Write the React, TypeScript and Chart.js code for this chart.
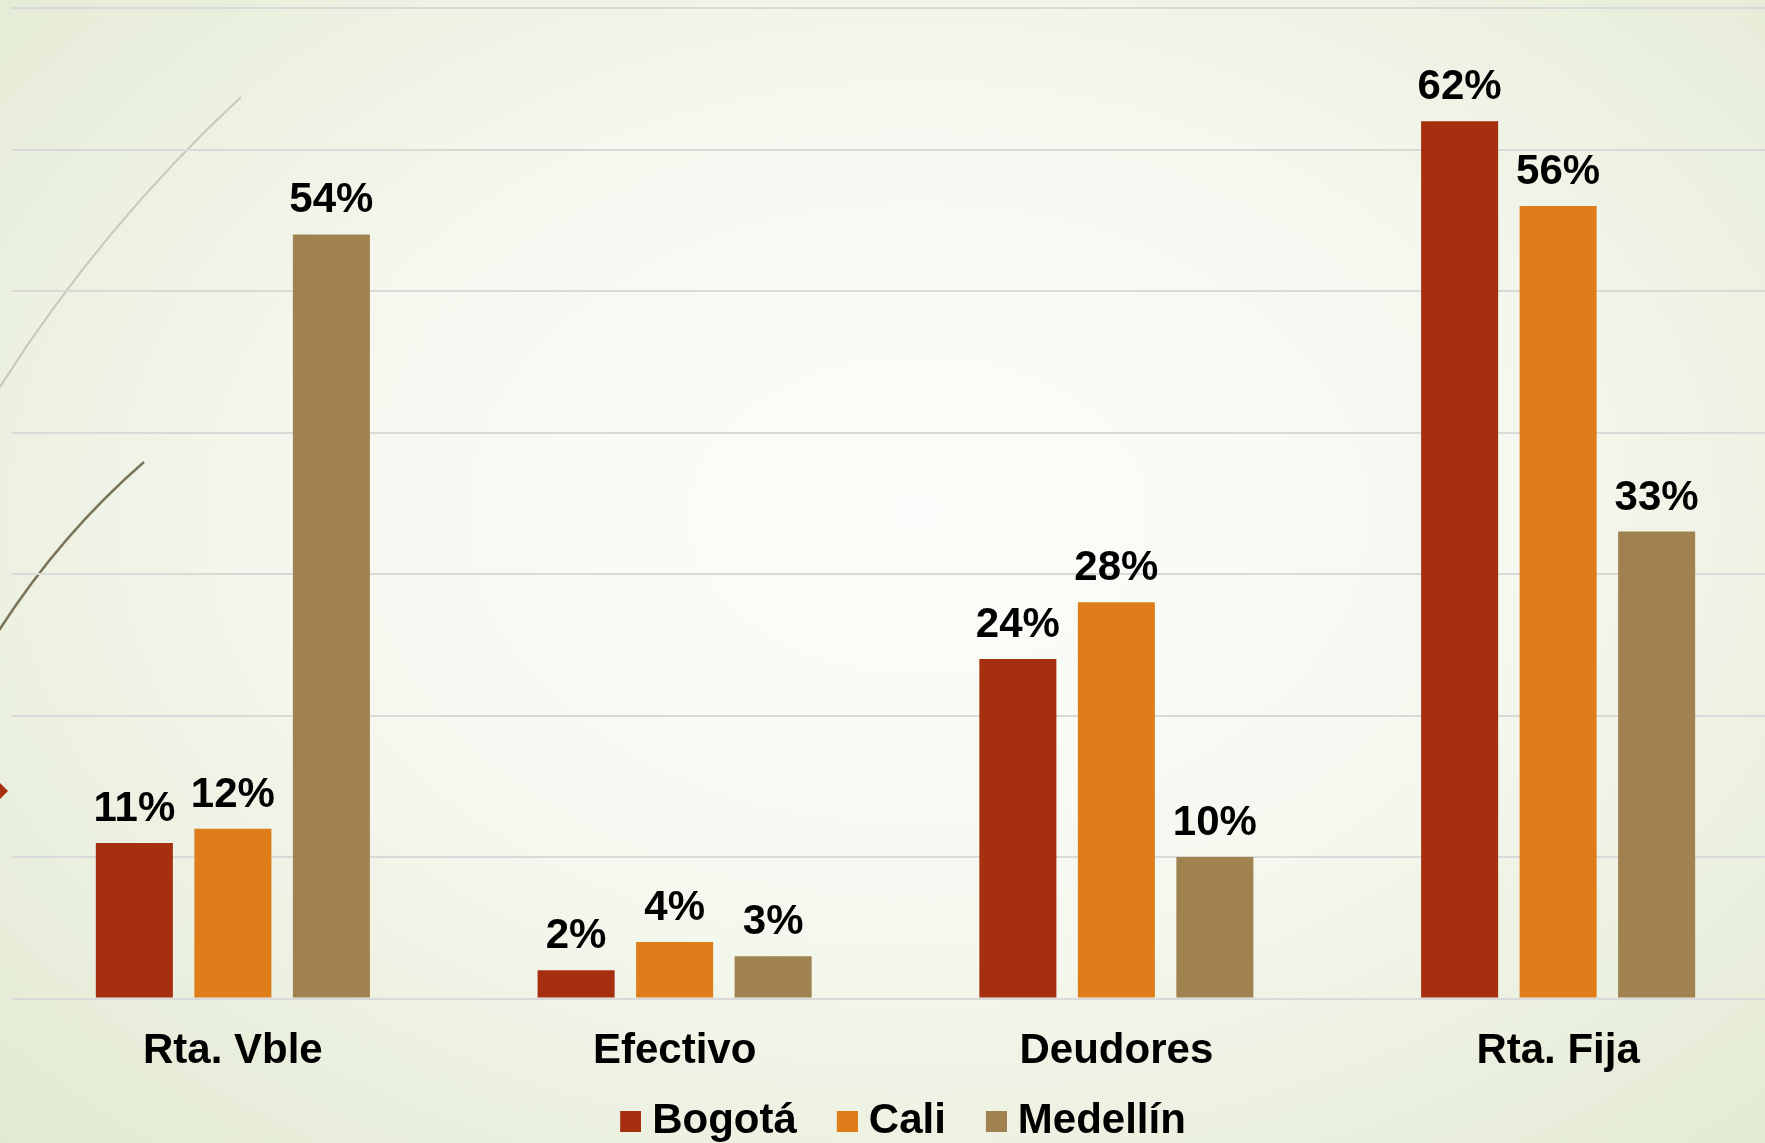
import React, { useEffect, useRef } from "react";
import { Chart, registerables } from "chart.js";

Chart.register(...registerables);

const categories = ["Rta. Vble", "Efectivo", "Deudores", "Rta. Fija"];
const seriesNames = ["Bogotá", "Cali", "Medellín"];
const bogota = [11, 2, 24, 62];
const cali = [12, 4, 28, 56];
const medellin = [54, 3, 10, 33];
const seriesColors = ["#a62f10", "#df7d1a", "#a08251"];
const yMin = 0;
const yMax = 70;
const yStep = 10;

const FONT_FAMILY = "'Liberation Sans', Arial, Helvetica, sans-serif";

const valueLabels = {
  id: "valueLabels",
  afterDatasetsDraw(chart: any) {
    const ctx = chart.ctx;
    ctx.save();
    ctx.font = `bold 42px ${FONT_FAMILY}`;
    ctx.fillStyle = "#000000";
    ctx.textAlign = "center";
    ctx.textBaseline = "alphabetic";
    chart.data.datasets.forEach((ds: any, i: number) => {
      const meta = chart.getDatasetMeta(i);
      meta.data.forEach((bar: any, j: number) => {
        ctx.fillText(`${ds.data[j]}%`, bar.x, bar.y - 22);
      });
    });
    ctx.restore();
  },
};

const decoration = {
  id: "decoration",
  beforeDraw(chart: any) {
    const ctx = chart.ctx;
    ctx.save();
    ctx.beginPath();
    ctx.moveTo(241, 97);
    ctx.quadraticCurveTo(100, 228, -2, 390);
    ctx.strokeStyle = "rgba(196,200,180,0.95)";
    ctx.lineWidth = 2;
    ctx.stroke();
    ctx.beginPath();
    ctx.moveTo(144, 462);
    ctx.quadraticCurveTo(60, 535, -2, 632);
    ctx.strokeStyle = "#7b745a";
    ctx.lineWidth = 2.5;
    ctx.stroke();
    ctx.beginPath();
    ctx.moveTo(-4, 779);
    ctx.lineTo(8, 791);
    ctx.lineTo(-4, 803);
    ctx.lineTo(-16, 791);
    ctx.closePath();
    ctx.fillStyle = "#a6300f";
    ctx.fill();
    ctx.restore();
  },
};

function makeSwatch(color: string): HTMLCanvasElement {
  const c = document.createElement("canvas");
  c.width = 46;
  c.height = 21;
  const g = c.getContext("2d")!;
  g.fillStyle = color;
  g.fillRect(25, 0, 21, 21);
  return c;
}

export default function App() {
  const ref = useRef<HTMLCanvasElement | null>(null);

  useEffect(() => {
    if (!ref.current) return;
    const swatches = seriesColors.map(makeSwatch);
    const chart = new Chart(ref.current, {
      type: "bar",
      data: {
        labels: categories,
        datasets: [
          { label: seriesNames[0], data: bogota, backgroundColor: seriesColors[0] },
          { label: seriesNames[1], data: cali, backgroundColor: seriesColors[1] },
          { label: seriesNames[2], data: medellin, backgroundColor: seriesColors[2] },
        ],
      },
      options: {
        responsive: false,
        animation: false,
        devicePixelRatio: 1,
        layout: { padding: { left: 12, right: 1, top: 8, bottom: 0 } },
        datasets: {
          bar: { categoryPercentage: 0.669, barPercentage: 0.782 },
        },
        scales: {
          x: {
            grid: { display: false, drawTicks: false },
            border: { display: false },
            afterFit: (scale: any) => {
              scale.height -= 30;
            },
            ticks: {
              color: "#000000",
              padding: 28,
              font: { family: FONT_FAMILY, size: 42, weight: "bold" },
            },
          },
          y: {
            min: yMin,
            max: yMax,
            ticks: { display: false, stepSize: yStep },
            grid: { color: "#d9d9d9", lineWidth: 2, drawTicks: false },
            border: { display: false },
          },
        },
        plugins: {
          tooltip: { enabled: false },
          legend: {
            position: "bottom",
            labels: {
              color: "#000000",
              font: { family: FONT_FAMILY, size: 42, weight: "bold" },
              usePointStyle: true,
              pointStyleWidth: 26,
              padding: 25,
              generateLabels: (c: any) => {
                const items = (Chart.defaults.plugins.legend.labels as any).generateLabels(c);
                return items.map((it: any, i: number) => ({ ...it, pointStyle: swatches[i] }));
              },
            },
          },
        },
      },
      plugins: [decoration, valueLabels],
    } as any);
    return () => chart.destroy();
  }, []);

  return (
    <div
      style={{
        position: "fixed",
        left: 0,
        top: 0,
        width: 1765,
        height: 1143,
        overflow: "hidden",
        background:
          "radial-gradient(ellipse 75% 80% at 52% 45%, #fcfdfa 0%, #f5f8ef 45%, #e8eedb 80%, #e2e9d0 100%)",
      }}
    >
      <canvas
        ref={ref}
        width={1780}
        height={1152}
        style={{ position: "absolute", left: 0, top: 0, width: 1780, height: 1152, display: "block" }}
      />
    </div>
  );
}
